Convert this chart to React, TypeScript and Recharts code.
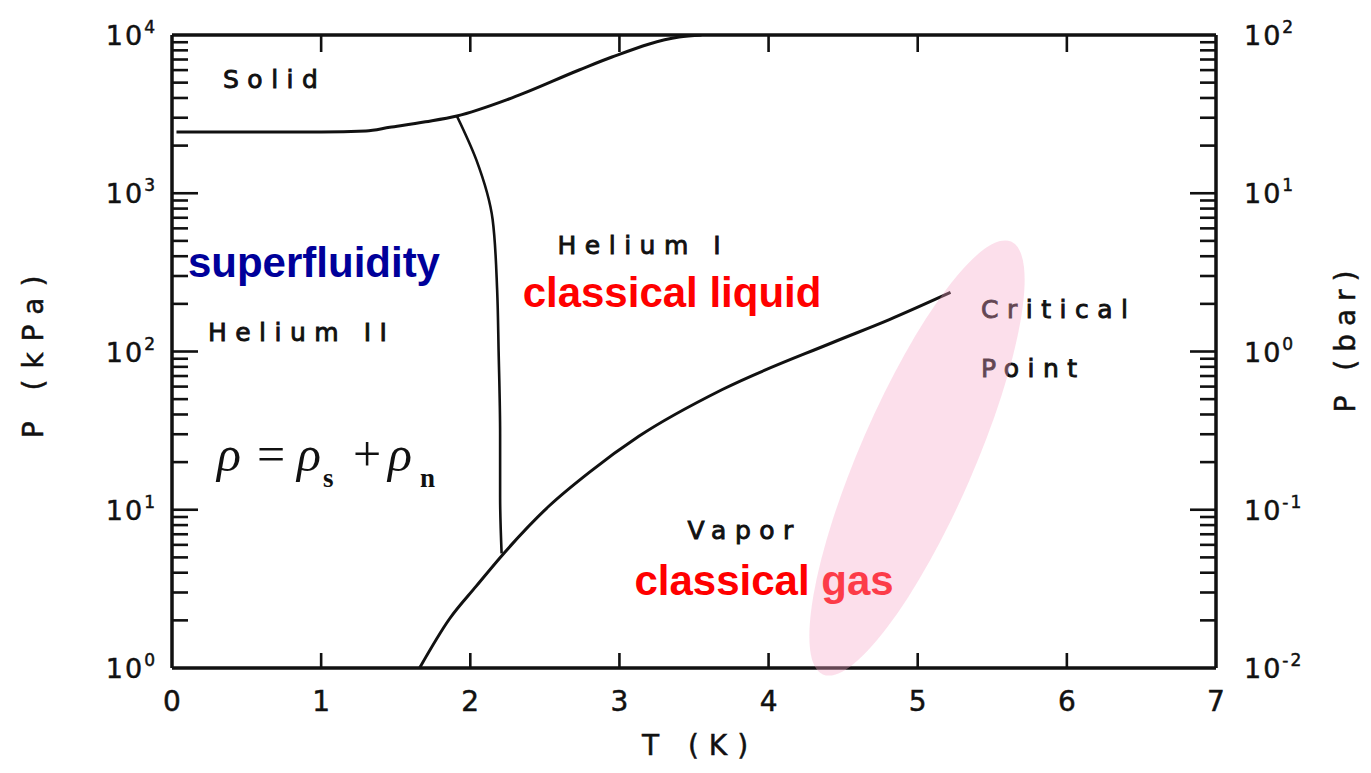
import { ComposedChart, Line, Scatter, XAxis, YAxis, ReferenceLine } from "recharts";

const INK = "#111";
const PLOT_FONT = "'DejaVu Sans', sans-serif";
const BOLD_FONT = "'Liberation Sans', Arial, sans-serif";

const W = 1355;
const H = 757;
const MARGIN = { top: 27, right: 60, bottom: 10, left: 76 };
const LEFT_W = 88;
const RIGHT_W = 87;
const BOTTOM_H = 87;
const PLOT_TOP = MARGIN.top;
const PLOT_BOTTOM = H - MARGIN.bottom - BOTTOM_H;
const PLOT_LEFT = MARGIN.left + LEFT_W;
const PLOT_RIGHT = W - MARGIN.right - RIGHT_W;

// melting curve, solid / liquid boundary (T in K, P in kPa)
const meltingT = [0.03, 0.5, 1.0, 1.3, 1.46, 1.7, 1.91, 2.28, 2.73, 2.95, 3.4, 3.55];
const meltingP = [2440, 2440, 2440, 2475, 2610, 2830, 3080, 4010, 6010, 7260, 9710, 10000];

// lambda line, He I / He II boundary
const lambdaT = [1.91, 2.04, 2.15, 2.18, 2.19, 2.2, 2.2, 2.21];
const lambdaP = [3080, 1630, 680, 246, 100, 30, 12, 5.3];

// saturated vapour pressure up to the critical point
const vaporT = [1.66, 1.86, 2.04, 2.22, 2.53, 2.8, 3.13, 3.69, 4.43, 4.81, 5.22];
const vaporP = [1.0, 2.04, 3.29, 5.24, 10.6, 17.3, 29.1, 57.5, 114, 159, 236];

const tempTicks = [0, 1, 2, 3, 4, 5, 6, 7];
const kpaDecades = [1, 10, 100, 1000, 10000];
const barDecades = [0.01, 0.1, 1, 10, 100];
const minorSteps = [2, 3, 4, 5, 6, 7, 8, 9];

// region labels and annotations
const noteText = [
  "Solid",
  "Helium I",
  "Helium II",
  "Vapor",
  "Critical",
  "Point",
  "superfluidity",
  "classical liquid",
  "classical gas",
  "rho",
];
const noteT = [0.342, 2.585, 0.241, 3.456, 5.425, 5.425, 0.107, 2.351, 3.101, 0.301];
const noteP = [4634, 415, 117, 6.51, 164, 69.5, 297, 190, 2.89, 17.5];

const zip = (ts: number[], ps: number[]) => ts.map((t, i) => ({ t, p: ps[i] }));
const melting = zip(meltingT, meltingP);
const lambda = zip(lambdaT, lambdaP);
const vapor = zip(vaporT, vaporP);
const notes = noteText.map((text, i) => ({ text, t: noteT[i], p: noteP[i] }));

const withMinor = (decades: number[]) => {
  const out: number[] = [];
  decades.forEach((d, i) => {
    out.push(d);
    if (i < decades.length - 1) minorSteps.forEach((m) => out.push(+(d * m).toPrecision(6)));
  });
  return out;
};
const kpaTicks = withMinor(kpaDecades);
const barTicks = withMinor(barDecades);

const decadeOf = (v: number) => {
  const e = Math.round(Math.log10(v));
  return Math.abs(v / Math.pow(10, e) - 1) < 1e-6 ? e : null;
};

const LeftTick = ({ x, y, payload }: any) => {
  const e = decadeOf(payload.value);
  const len = e !== null && e > 0 && e < 4 ? 26 : 16;
  return (
    <g>
      {payload.value > 1 && payload.value < 10000 && (
        <line x1={x} x2={x + len} y1={y} y2={y} stroke={INK} strokeWidth={2.6} />
      )}
      {e !== null && (
        <text x={x - 15} y={y + 10} textAnchor="end" fontFamily={PLOT_FONT} fontSize={27} fill={INK}
          stroke={INK} strokeWidth={0.5} letterSpacing={2}>
          10
          <tspan dy={-12} fontSize={17}>{e}</tspan>
        </text>
      )}
    </g>
  );
};

const RightTick = ({ x, y, payload }: any) => {
  const e = decadeOf(payload.value);
  const len = e !== null && e > -2 && e < 2 ? 26 : 16;
  return (
    <g>
      {payload.value > 0.01 && payload.value < 100 && (
        <line x1={x} x2={x - len} y1={y} y2={y} stroke={INK} strokeWidth={2.6} />
      )}
      {e !== null && (
        <text x={x + 28} y={y + 10} fontFamily={PLOT_FONT} fontSize={27} fill={INK}
          stroke={INK} strokeWidth={0.5} letterSpacing={2}>
          10
          <tspan dy={-12} fontSize={17}>{e < 0 ? `-${-e}` : e}</tspan>
        </text>
      )}
    </g>
  );
};

const BottomTick = ({ x, y, payload }: any) => {
  const inner = payload.value > 0 && payload.value < 7;
  return (
    <g>
      {inner && <line x1={x} x2={x} y1={y} y2={y - 15} stroke={INK} strokeWidth={2.6} />}
      {inner && <line x1={x} x2={x} y1={PLOT_TOP} y2={PLOT_TOP + 17} stroke={INK} strokeWidth={2.6} />}
      <text x={x} y={y + 43} textAnchor="middle" fontFamily={PLOT_FONT} fontSize={28} fill={INK}
        stroke={INK} strokeWidth={0.5}>
        {payload.value}
      </text>
    </g>
  );
};

const NoteShape = ({ cx, cy, payload }: any) => {
  const text: string = payload.text;
  if (text === "rho") {
    return (
      <text y={cy} fontFamily="'Liberation Serif', 'Times New Roman', serif" fontSize={50} fill={INK}>
        <tspan x={cx} fontStyle="italic">ρ</tspan>
        <tspan x={cx + 40}>=</tspan>
        <tspan x={cx + 80} fontStyle="italic">ρ</tspan>
        <tspan x={cx + 106} dy={16} fontSize={27} fontWeight="bold">s</tspan>
        <tspan x={cx + 136} dy={-16}>+</tspan>
        <tspan x={cx + 171} fontStyle="italic">ρ</tspan>
        <tspan x={cx + 203} dy={16} fontSize={27} fontWeight="bold">n</tspan>
      </text>
    );
  }
  if (text === "superfluidity" || text.startsWith("classical")) {
    return (
      <text x={cx} y={cy} fontFamily={BOLD_FONT} fontWeight="bold" fontSize={42}
        fill={text === "superfluidity" ? "#00009a" : "#ff0000"}>
        {text}
      </text>
    );
  }
  return (
    <text x={cx} y={cy} fontFamily={PLOT_FONT} fontSize={25} letterSpacing={8.5} fill={INK}
      stroke={INK} strokeWidth={0.9}>
      {text}
    </text>
  );
};

const axisTitle = (text: string, x: number, y: number, angle: number, spacing: number) => () => (
  <text x={x} y={y} textAnchor="middle" dominantBaseline="central" fontFamily={PLOT_FONT} fontSize={28}
    letterSpacing={spacing} fill={INK} stroke={INK} strokeWidth={0.5}
    transform={`rotate(${angle} ${x} ${y})`}>
    {text}
  </text>
);

const HeliumPhaseDiagram = () => (
  <div style={{ position: "relative", width: W, height: H }}>
    <ComposedChart width={W} height={H} margin={MARGIN}>
      <XAxis
        type="number"
        dataKey="t"
        domain={[0, 7]}
        ticks={tempTicks}
        interval={0}
        height={BOTTOM_H}
        tickSize={0}
        tickMargin={0}
        tickLine={false}
        tick={(p: any) => <BottomTick {...p} />}
        axisLine={{ stroke: INK, strokeWidth: 3.5 }}
        label={{ content: axisTitle("T (K)", (PLOT_LEFT + PLOT_RIGHT) / 2 + 6, PLOT_BOTTOM + 77, 0, 10) }}
      />
      <YAxis
        yAxisId="kpa"
        type="number"
        scale="log"
        domain={[1, 10000]}
        allowDataOverflow
        ticks={kpaTicks}
        interval={0}
        width={LEFT_W}
        tickSize={0}
        tickMargin={0}
        tickLine={false}
        tick={(p: any) => <LeftTick {...p} />}
        axisLine={{ stroke: INK, strokeWidth: 3.5 }}
        label={{ content: axisTitle("P (kPa)", 25, (PLOT_TOP + PLOT_BOTTOM) / 2, -90, 11) }}
      />
      <YAxis
        yAxisId="bar"
        orientation="right"
        type="number"
        scale="log"
        domain={[0.01, 100]}
        allowDataOverflow
        ticks={barTicks}
        interval={0}
        width={RIGHT_W}
        tickSize={0}
        tickMargin={0}
        tickLine={false}
        tick={(p: any) => <RightTick {...p} />}
        axisLine={{ stroke: INK, strokeWidth: 3.5 }}
        label={{ content: axisTitle("P (bar)", 1337, (PLOT_TOP + PLOT_BOTTOM) / 2 - 14, -90, 8) }}
      />
      <ReferenceLine yAxisId="kpa" y={10000} stroke={INK} strokeWidth={3.5} />

      <Line data={melting} dataKey="p" yAxisId="kpa" type="monotone" stroke={INK} strokeWidth={3}
        dot={false} activeDot={false} isAnimationActive={false} />
      <Line data={lambda} dataKey="p" yAxisId="kpa" type="monotoneY" stroke={INK} strokeWidth={2.6}
        dot={false} activeDot={false} isAnimationActive={false} />
      <Line data={vapor} dataKey="p" yAxisId="kpa" type="monotone" stroke={INK} strokeWidth={3}
        dot={false} activeDot={false} isAnimationActive={false} />
      <Scatter data={notes} dataKey="p" yAxisId="kpa" shape={(p: any) => <NoteShape {...p} />}
        isAnimationActive={false} />
    </ComposedChart>
    {/* highlight band across the critical region */}
    <svg width={W} height={H} style={{ position: "absolute", left: 0, top: 0, pointerEvents: "none" }}>
      <ellipse cx={909} cy={450} rx={236} ry={57} fill="rgb(247,165,200)" fillOpacity={0.36}
        transform="rotate(-66.5 909 450)" />
    </svg>
  </div>
);

export default function App() {
  return <HeliumPhaseDiagram />;
}
